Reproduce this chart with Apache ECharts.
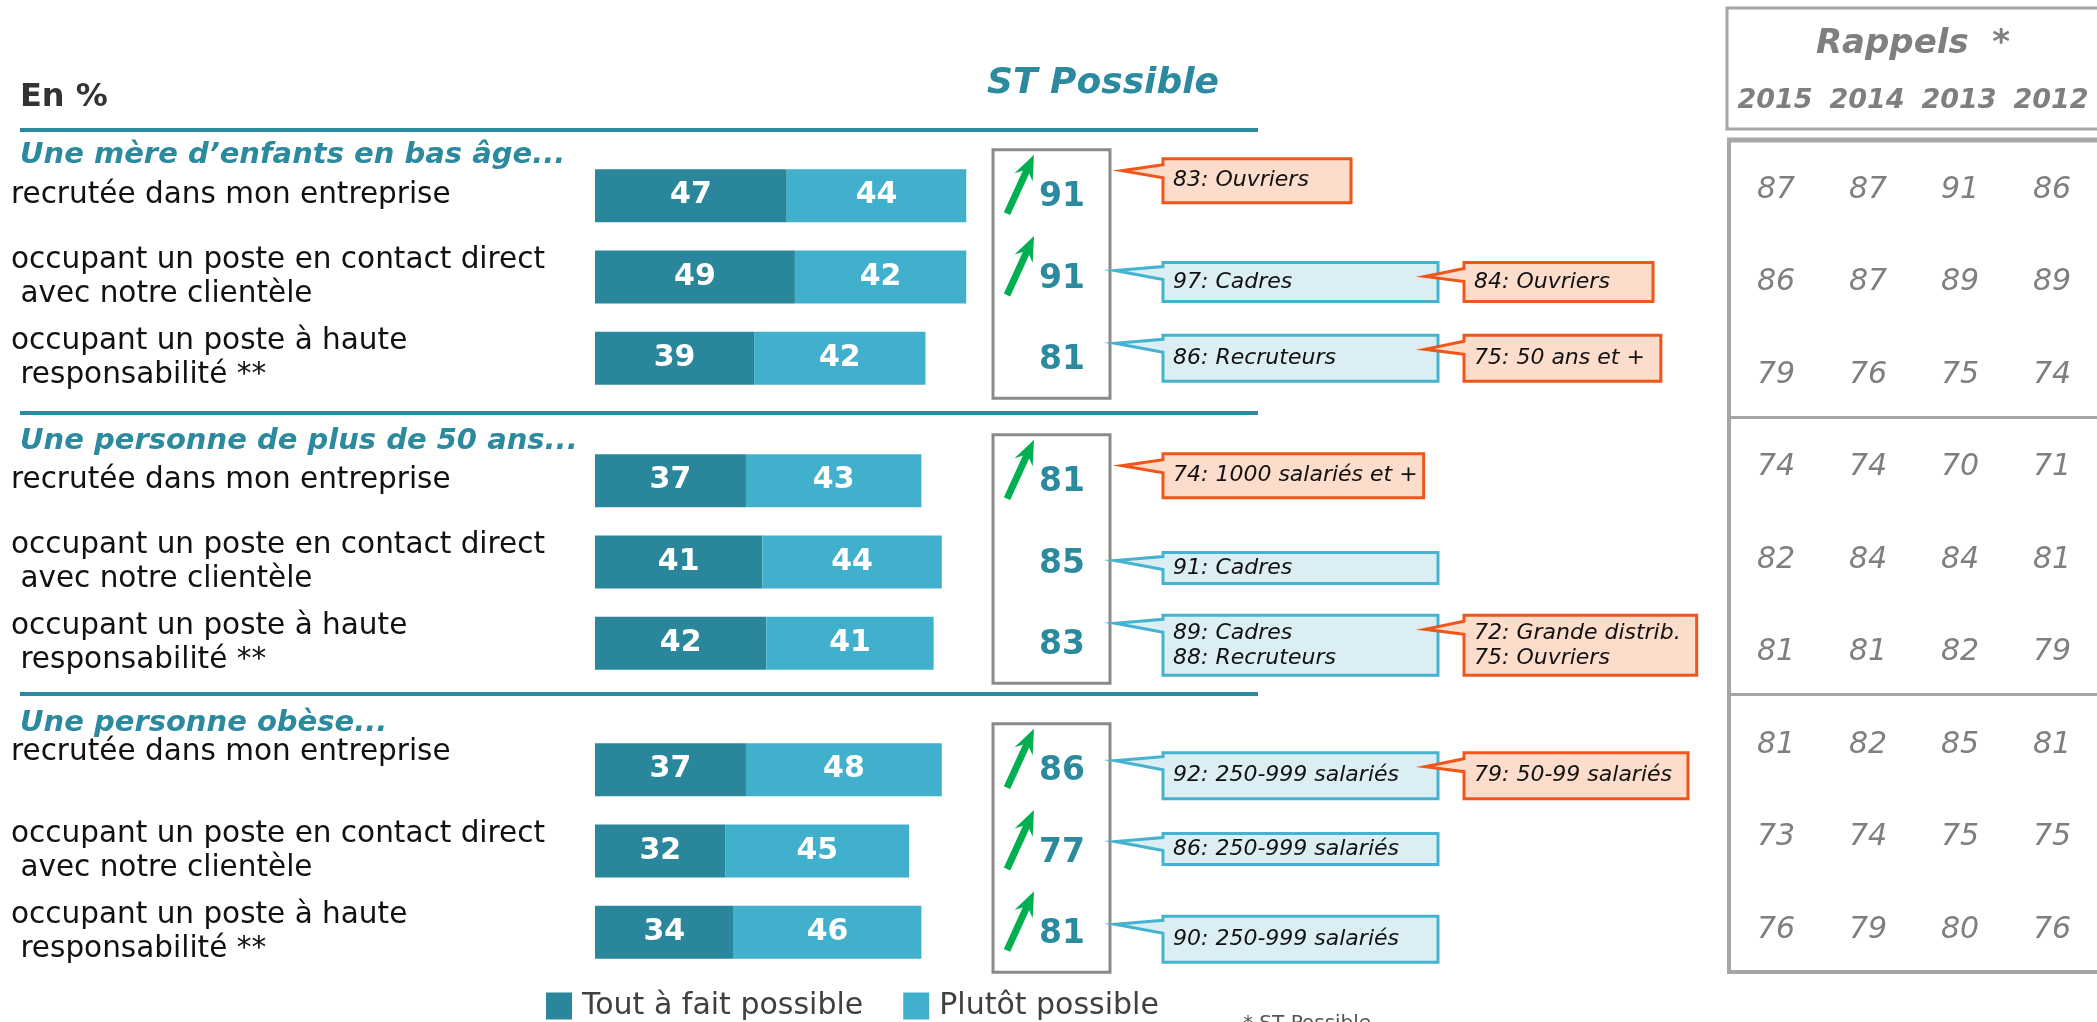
<!DOCTYPE html>
<html>
<head>
<meta charset="utf-8">
<script src="https://cdn.jsdelivr.net/npm/echarts@6/dist/echarts.min.js"></script>
<style>
  html, body { margin: 0; padding: 0; background: #fff; }
  #chart { width: 2097px; height: 1022px; }
</style>
</head>
<body>
<div id="chart"></div>
<script>
// données
const groupTitles = ['Une mère d’enfants en bas âge...', 'Une personne de plus de 50 ans...', 'Une personne obèse...'];
const itemLabels = ['recrutée dans mon entreprise', 'occupant un poste en contact direct\n avec notre clientèle', 'occupant un poste à haute\n responsabilité **'];
const seriesNames = ['Tout à fait possible', 'Plutôt possible'];
const toutAFait = [[47, 49, 39], [37, 41, 42], [37, 32, 34]];
const plutot = [[44, 42, 42], [43, 44, 41], [48, 45, 46]];
const stPossible = [[91, 91, 81], [81, 85, 83], [86, 77, 81]];
const hausse = [[1, 1, 0], [1, 0, 0], [1, 1, 1]];
const bullesHaut = [
  [null, '97: Cadres', '86: Recruteurs'],
  [null, '91: Cadres', '89: Cadres\n88: Recruteurs'],
  ['92: 250-999 salariés', '86: 250-999 salariés', '90: 250-999 salariés']
];
const bullesBas = [
  ['83: Ouvriers', '84: Ouvriers', '75: 50 ans et +'],
  ['74: 1000 salariés et +', null, '72: Grande distrib.\n75: Ouvriers'],
  ['79: 50-99 salariés', null, null]
];
const years = ['2015', '2014', '2013', '2012'];
const rappels = [
  [87, 87, 91, 86], [86, 87, 89, 89], [79, 76, 75, 74],
  [74, 74, 70, 71], [82, 84, 84, 81], [81, 81, 82, 79],
  [81, 82, 85, 81], [73, 74, 75, 75], [76, 79, 80, 76]
];

// mise en page
const FONT = 'DejaVu Sans';
const TEAL = '#2b8a9e';
const DARK = '#2a879b';
const LIGHT = '#41b0cc';
const GREEN = '#00b050';
const GRAY = '#8a8a8a';
const TABLE_GRAY = '#a6a6a6';
const gridTops = [155, 440, 729];
const GRID_H = 244;
const titleY = [155, 441, 723];
const sepY = [130, 413, 694];
const bubbleDy = [[-15, 5, 0], [-5, 6, 2], [6, -2, 7]];
const bubbleH = [[44, 39, 46], [44, 31, 60], [46, 31, 46]];
const labelLift = [[0, 0, 0], [0, 0, 0], [34, 0, 0]];

const measureCtx = document.createElement('canvas').getContext('2d');
function textWidth(str) {
  measureCtx.font = 'italic 22px "' + FONT + '"';
  return Math.max(...str.split('\n').map(s => measureCtx.measureText(s).width));
}

function bubble(L, R, T, H, tipX, tipDy, baseA, baseB, fill, stroke, text) {
  return [
    {
      type: 'polygon',
      shape: { points: [[L, T], [R, T], [R, T + H], [L, T + H], [L, T + baseB], [tipX, T + tipDy], [L, T + baseA]] },
      style: { fill: fill, stroke: stroke, lineWidth: 3, lineJoin: 'miter' }
    },
    {
      type: 'text',
      style: {
        text: text, x: L + 10, y: T + H / 2, fill: '#111',
        fontSize: 22, fontFamily: FONT, fontStyle: 'italic',
        verticalAlign: 'middle', align: 'left', lineHeight: 25
      }
    }
  ];
}

function arrow(cy) {
  let tail = [1007, cy + 18], tip = [1034, cy - 41];
  let dx = tip[0] - tail[0], dy = tip[1] - tail[1];
  let len = Math.sqrt(dx * dx + dy * dy);
  let u = [dx / len, dy / len], n = [-u[1], u[0]];
  let p = (a, b) => [tip[0] - a * u[0] + b * n[0], tip[1] - a * u[1] + b * n[1]];
  return [
    { type: 'line', shape: { x1: tail[0], y1: tail[1], x2: p(14, 0)[0], y2: p(14, 0)[1] }, style: { stroke: GREEN, lineWidth: 7 } },
    { type: 'polygon', shape: { points: [tip, p(25, 10), p(16, 0), p(25, -10)] }, style: { fill: GREEN } }
  ];
}

function makeRender(g) {
  return function (params, api) {
    let r = api.value(0);
    let cy = api.coord([0, r])[1];
    let children = [];
    if (r === 0)
    {
      let cyLast = api.coord([0, 2])[1];
      children.push({ type: 'rect', shape: { x: 993, y: cy - 46, width: 117, height: cyLast - cy + 86 }, style: { fill: 'none', stroke: GRAY, lineWidth: 3 } });
    };
    children.push({
      type: 'text',
      style: {
        text: String(stPossible[g][r]), x: 1062, y: cy + 2, fill: TEAL,
        fontSize: 33, fontWeight: 'bold', fontFamily: FONT, align: 'center', verticalAlign: 'middle'
      }
    });
    if (hausse[g][r]) children.push(...arrow(cy));
    let H = bubbleH[g][r];
    let T = cy + bubbleDy[g][r] - H / 2;
    let haut = bullesHaut[g][r], bas = bullesBas[g][r];
    if (haut)
    {
      children.push(...bubble(1163, 1438, T, H, 1115, 8, 4, 17, '#daeef4', '#45b3cf', haut));
      if (bas)
      {
        let w = Math.max(189, textWidth(bas) + 26);
        children.push(...bubble(1464, 1464 + w, T, H, 1425, 14, 6, 19, '#fcdccb', '#f0561a', bas));
      };
    }
    else if (bas)
    {
      let w = Math.max(188, textWidth(bas) + 16);
      children.push(...bubble(1163, 1163 + w, T, H, 1122, 12, 6, 19, '#fcdccb', '#f0561a', bas));
    };
    return { type: 'group', children: children };
  };
}

let grid = [], xAxis = [], yAxis = [], series = [];
for (let g = 0; g < 3; g++)
{
  grid.push({ left: 595, top: gridTops[g], width: 408, height: GRID_H });
  xAxis.push({ type: 'value', gridIndex: g, min: 0, max: 100, show: false });
  yAxis.push({
    type: 'category', gridIndex: g, data: itemLabels, inverse: true,
    axisLine: { show: false }, axisTick: { show: false }, splitLine: { show: false },
    axisLabel: {
      interval: 0, align: 'left', margin: 584, fontSize: 29.5, lineHeight: 34, color: '#111', fontFamily: FONT,
      formatter: (v, i) => labelLift[g][i] ? '{up|' + v + '}' : v,
      rich: { up: { fontSize: 29.5, lineHeight: 34, color: '#111', fontFamily: FONT, padding: [0, 0, labelLift[g][0], 0] } }
    }
  });
  [toutAFait, plutot].forEach((vals, k) => {
    series.push({
      name: seriesNames[k], type: 'bar', stack: 'g' + g, xAxisIndex: g, yAxisIndex: g,
      barWidth: 53, data: vals[g],
      itemStyle: { color: k === 0 ? DARK : LIGHT },
      label: { show: true, position: 'inside', color: '#fff', fontSize: 30, fontWeight: 'bold', fontFamily: FONT }
    });
  });
  series.push({
    type: 'custom', xAxisIndex: g, yAxisIndex: g, silent: true, z: 5,
    data: [0, 1, 2].map(r => [r, stPossible[g][r]]),
    encode: { y: 0, x: 1 },
    renderItem: makeRender(g)
  });
}

// tableau des rappels
grid.push({ left: 1729, top: 140, width: 372, height: 832 });
xAxis.push({
  type: 'category', gridIndex: 3, data: years, position: 'top',
  axisLine: { show: false }, axisTick: { show: false }, splitLine: { show: false },
  axisLabel: { interval: 0, hideOverlap: false, margin: 26, fontSize: 27, fontWeight: 'bold', fontStyle: 'italic', color: '#7f7f7f', fontFamily: FONT }
});
yAxis.push({
  type: 'category', gridIndex: 3, data: rappels.map((_, i) => String(i)), inverse: true,
  axisLine: { show: false }, axisTick: { show: false }, axisLabel: { show: false },
  splitLine: { show: true, interval: (i) => i === 3 || i === 6, lineStyle: { color: TABLE_GRAY, width: 3 } }
});
let tableData = [];
rappels.forEach((row, r) => row.forEach((v, c) => tableData.push([c, r, v])));
series.push({
  type: 'custom', xAxisIndex: 3, yAxisIndex: 3, silent: true,
  data: tableData,
  renderItem: function (params, api) {
    let p = api.coord([api.value(0), api.value(1)]);
    return {
      type: 'text',
      style: {
        text: String(api.value(2)), x: p[0] + 1, y: p[1] + 4, fill: '#7f7f7f',
        fontSize: 30, fontStyle: 'italic', fontFamily: FONT, align: 'center', verticalAlign: 'middle'
      }
    };
  }
});

let graphic = [
  { type: 'text', left: 20, top: 82, style: { text: 'En %', fontSize: 32, fontWeight: 'bold', fill: '#333', fontFamily: FONT } },
  { type: 'text', x: 1103, y: 84, style: { text: 'ST Possible', fontSize: 36, fontWeight: 'bold', fontStyle: 'italic', fill: TEAL, fontFamily: FONT, align: 'center', verticalAlign: 'middle' } },
  { type: 'rect', shape: { x: 1727, y: 8, width: 400, height: 121 }, style: { fill: 'none', stroke: TABLE_GRAY, lineWidth: 3 } },
  { type: 'text', x: 1913, y: 44, style: { text: 'Rappels  *', fontSize: 34, fontWeight: 'bold', fontStyle: 'italic', fill: '#7f7f7f', fontFamily: FONT, align: 'center', verticalAlign: 'middle' } },
  { type: 'line', shape: { x1: 1729, y1: 138, x2: 1729, y2: 973 }, style: { stroke: TABLE_GRAY, lineWidth: 4 } },
  { type: 'line', shape: { x1: 1727, y1: 140, x2: 2097, y2: 140 }, style: { stroke: TABLE_GRAY, lineWidth: 5 } },
  { type: 'line', shape: { x1: 1727, y1: 972, x2: 2097, y2: 972 }, style: { stroke: TABLE_GRAY, lineWidth: 4 } },
  { type: 'text', x: 1243, y: 1014, style: { text: '* ST Possible', fontSize: 20, fill: '#555', fontFamily: FONT } }
];
sepY.forEach(y => graphic.push({ type: 'line', shape: { x1: 20, y1: y, x2: 1258, y2: y }, style: { stroke: TEAL, lineWidth: 4 } }));
groupTitles.forEach((t, g) => graphic.push({
  type: 'text', x: 20, y: titleY[g],
  style: { text: t, fontSize: 29, fontWeight: 'bold', fontStyle: 'italic', fill: TEAL, fontFamily: FONT, verticalAlign: 'middle' }
}));

const chart = echarts.init(document.getElementById('chart'));
chart.setOption({
  animation: false,
  textStyle: { fontFamily: FONT },
  legend: {
    data: seriesNames, left: 546, top: 991, padding: 0, icon: 'rect', itemWidth: 26, itemHeight: 27, itemGap: 40,
    selectedMode: false, textStyle: { fontSize: 30, color: '#404040', fontFamily: FONT, padding: [0, 0, 0, 5] }
  },
  grid: grid,
  xAxis: xAxis,
  yAxis: yAxis,
  series: series,
  graphic: graphic
});
</script>
</body>
</html>
